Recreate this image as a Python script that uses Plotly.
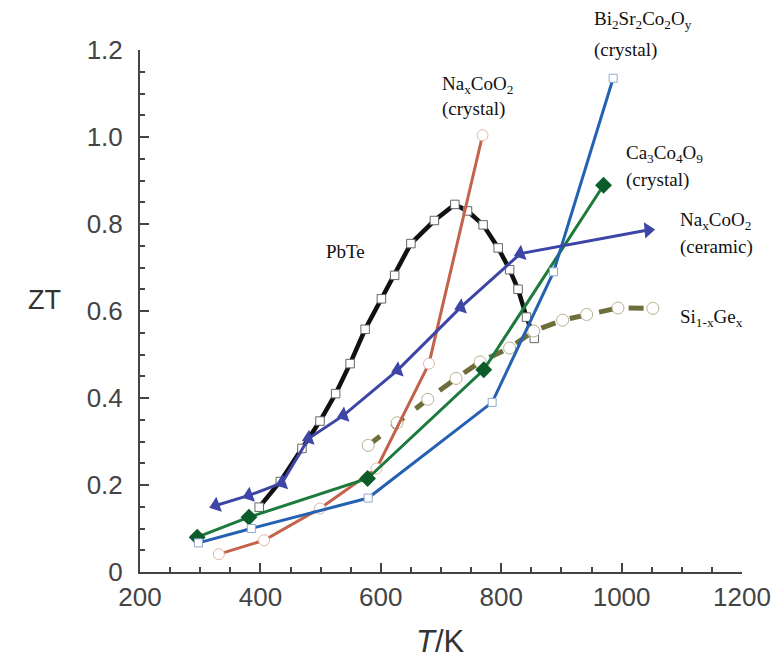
import plotly.graph_objects as go

# ---------------- data ----------------
bi_T = [297, 385, 579, 785, 887, 986]
bi_ZT = [0.067, 0.100, 0.170, 0.390, 0.690, 1.135]

ca_T = [295, 381, 578, 771, 970]
ca_ZT = [0.080, 0.126, 0.215, 0.465, 0.889]

nac_T = [331, 406, 499, 593, 680, 769]
nac_ZT = [0.041, 0.073, 0.146, 0.238, 0.479, 1.004]

nacer_T = [326, 381, 436, 480, 538, 628, 733, 832, 1044]
nacer_ZT = [0.153, 0.176, 0.205, 0.307, 0.360, 0.464, 0.609, 0.732, 0.786]

sige_T = [579, 627, 678, 725, 765, 814, 854, 902, 942, 994, 1052]
sige_ZT = [0.291, 0.343, 0.397, 0.445, 0.483, 0.515, 0.554, 0.579, 0.592, 0.607, 0.606]

pbte_T = [398, 433, 469, 499, 525, 549, 574, 601, 623, 650, 689, 723, 744, 770,
          795, 814, 828, 842, 855]
pbte_ZT = [0.149, 0.208, 0.284, 0.347, 0.410, 0.479, 0.558, 0.628, 0.682, 0.755,
           0.808, 0.845, 0.830, 0.798, 0.745, 0.695, 0.650, 0.586, 0.537]

x_tickvals = [200, 400, 600, 800, 1000, 1200]
y_tickvals = [0, 0.2, 0.4, 0.6, 0.8, 1.0, 1.2]
y_ticktext = ["0", "0.2", "0.4", "0.6", "0.8", "1.0", "1.2"]

X_RANGE = [200, 1200]
Y_RANGE = [0, 1.2]

# label texts and anchor positions (data coords)
labels = [
    ("PbTe", 505, 0.737),
    ("Na<sub>x</sub>CoO<sub>2</sub>", 699, 1.119),
    ("(crystal)", 699, 1.064),
    ("Bi<sub>2</sub>Sr<sub>2</sub>Co<sub>2</sub>O<sub>y</sub>", 950, 1.270),
    ("(crystal)", 950, 1.199),
    ("Ca<sub>3</sub>Co<sub>4</sub>O<sub>9</sub>", 1004, 0.962),
    ("(crystal)", 1004, 0.902),
    ("Na<sub>x</sub>CoO<sub>2</sub>", 1093, 0.808),
    ("(ceramic)", 1093, 0.746),
    ("Si<sub>1-x</sub>Ge<sub>x</sub>", 1093, 0.585),
]


def to_paper(xv, yv):
    return ((xv - X_RANGE[0]) / (X_RANGE[1] - X_RANGE[0]),
            (yv - Y_RANGE[0]) / (Y_RANGE[1] - Y_RANGE[0]))


fig = go.Figure()

# PbTe
fig.add_trace(go.Scatter(
    x=pbte_T, y=pbte_ZT, mode="lines+markers", cliponaxis=False,
    line=dict(color="#111111", width=4.5),
    marker=dict(symbol="square", size=8.5, color="white",
                line=dict(color="#666666", width=1)),
))
# Si1-xGex
fig.add_trace(go.Scatter(
    x=sige_T, y=sige_ZT, mode="lines+markers", cliponaxis=False,
    line=dict(color="#6e6d3c", width=5, dash="dash"),
    marker=dict(symbol="circle", size=12, color="white",
                line=dict(color="#b6b48e", width=1)),
))
# Na_xCoO2 crystal
fig.add_trace(go.Scatter(
    x=nac_T, y=nac_ZT, mode="lines+markers", cliponaxis=False,
    line=dict(color="#c4634b", width=3),
    marker=dict(symbol="circle", size=11, color="white",
                line=dict(color="#e2b7a8", width=1)),
))
# Ca3Co4O9
fig.add_trace(go.Scatter(
    x=ca_T, y=ca_ZT, mode="lines+markers", cliponaxis=False,
    line=dict(color="#1b7a3c", width=3),
    marker=dict(symbol="diamond", size=13, color="#0c5c2a",
                line=dict(color="#0c5c2a", width=0)),
))
# Bi2Sr2Co2Oy
fig.add_trace(go.Scatter(
    x=bi_T, y=bi_ZT, mode="lines+markers", cliponaxis=False,
    line=dict(color="#2461b3", width=3),
    marker=dict(symbol="square", size=8, color="white",
                line=dict(color="#8fa9d3", width=1)),
))
# Na_xCoO2 ceramic
n = len(nacer_T)
fig.add_trace(go.Scatter(
    x=nacer_T, y=nacer_ZT, mode="lines+markers", cliponaxis=False,
    line=dict(color="#3d45a6", width=3),
    marker=dict(symbol=["triangle-left"] * (n - 1) + ["triangle-right"],
                angle=[-20] * (n - 1) + [-5],
                size=14, color="#3d45a6", line=dict(width=0)),
))

for txt, xx, yy in labels:
    px, py = to_paper(xx, yy)
    fig.add_annotation(x=px, y=py, xref="paper", yref="paper", text=txt, showarrow=False,
                       xanchor="left", yanchor="middle",
                       font=dict(family="Liberation Serif", size=19, color="#111111"))

# axis titles (placed as free text like the reference)
fig.add_annotation(x=(44 - 140) / 607, y=(571.7 - 300) / 522, xref="paper", yref="paper",
                   text="ZT", showarrow=False, xanchor="center", yanchor="middle",
                   font=dict(family="Liberation Sans", size=27, color="#333333"))
fig.add_annotation(x=(443 - 140) / 607, y=(571.7 - 641) / 522, xref="paper", yref="paper",
                   text="<i>T</i>/K", showarrow=False, xanchor="center", yanchor="middle",
                   font=dict(family="Liberation Sans", size=31, color="#333333"))

axis_common = dict(
    showline=True, linecolor="#444444", linewidth=2, showgrid=False, zeroline=False,
    ticks="inside", ticklen=9, tickwidth=2, tickcolor="#444444",
    tickfont=dict(family="Liberation Sans", size=26, color="#444444"),
)
fig.update_xaxes(range=X_RANGE, tickvals=x_tickvals,
                 minor=dict(ticks="inside", ticklen=5, tickwidth=1.5, tickcolor="#444444", dtick=50),
                 ticklabelstandoff=1, **axis_common)
fig.update_yaxes(range=Y_RANGE, tickvals=y_tickvals, ticktext=y_ticktext,
                 minor=dict(ticks="inside", ticklen=5, tickwidth=1.5, tickcolor="#444444", dtick=0.05),
                 ticklabelstandoff=10, **axis_common)

fig.update_layout(
    width=783, height=666, showlegend=False,
    margin=dict(l=140, r=36, t=50, b=94, pad=0),
    plot_bgcolor="white", paper_bgcolor="white",
)

fig.write_html("out.html")
